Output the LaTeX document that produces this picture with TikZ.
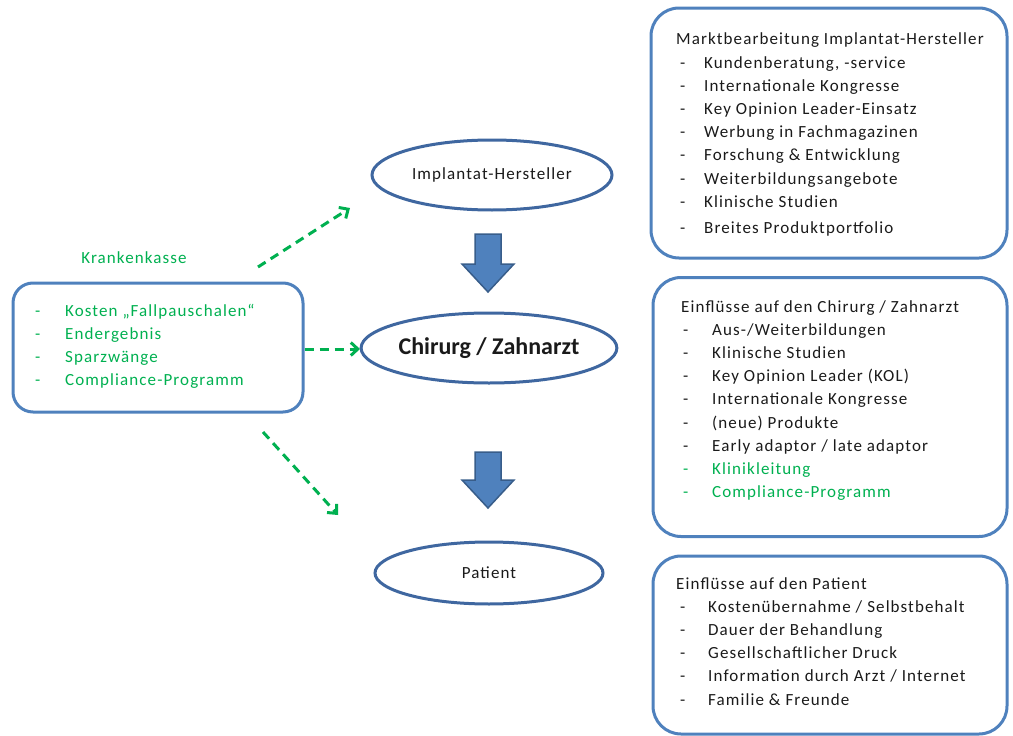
\documentclass[tikz,border=0pt]{standalone}
\usepackage{fontspec}
\setmainfont{Carlito}[LetterSpace=6.5]
\newfontfamily\plainfont{Carlito}
\usetikzlibrary{arrows.meta,shapes.geometric}
\definecolor{boxblue}{HTML}{4F81BD}
\definecolor{ellblue}{HTML}{3F67A0}
\definecolor{arrowedge}{HTML}{385D8A}
\definecolor{kgreen}{HTML}{00B050}
\definecolor{txt}{HTML}{1A1A1A}
\begin{document}
\begin{tikzpicture}[x=1pt,y=-1pt,
  infobox/.style={draw=boxblue, line width=3pt, rounded corners=28pt, inner sep=0pt},
  listtext/.style={inner sep=0pt, anchor=base west, text=txt, font=\fontsize{17}{23.2}\selectfont},
  ellnode/.style={ellipse, draw=ellblue, line width=3pt, inner sep=0pt, text=txt},
  blockarrow/.style={fill=boxblue, draw=arrowedge, line width=1.5pt, line join=miter},
  greenarrow/.style={draw=kgreen, line width=3pt, dash pattern=on 9pt off 6pt, -{Straight Barb[length=7pt,width=13pt,line width=3pt]}}]
\useasboundingbox (0,0) rectangle (1013,736);

% right boxes
\node[infobox, minimum width=356pt, minimum height=250pt] (b1) at (829,133) {};
\node[infobox, minimum width=354pt, minimum height=259pt] (b2) at (830,407) {};
\node[infobox, minimum width=354pt, minimum height=178pt] (b3) at (830,645) {};

\node[listtext] (t1) at (676,45) {\begin{tabular}[t]{@{\hspace{4pt}}p{24pt}@{}l}
\multicolumn{2}{@{}l}{Marktbearbeitung Implantat-Hersteller}\\
- & Kundenberatung, -service\\
- & Internationale Kongresse\\
- & Key Opinion Leader-Einsatz\\
- & Werbung in Fachmagazinen\\
- & Forschung \& Entwicklung\\
- & Weiterbildungsangebote\\
- & Klinische Studien\\[2.5pt]
- & Breites Produktportfolio
\end{tabular}};

\node[listtext] (t2) at (681,312) {\begin{tabular}[t]{@{\hspace{2pt}}p{29pt}@{}l}
\multicolumn{2}{@{}l}{Einflüsse auf den Chirurg / Zahnarzt}\\
- & Aus-/Weiterbildungen\\
- & Klinische Studien\\
- & Key Opinion Leader (KOL)\\
- & Internationale Kongresse\\
- & (neue) Produkte\\
- & Early adaptor / late adaptor\\
\textcolor{kgreen}{-} & \textcolor{kgreen}{Klinikleitung}\\
\textcolor{kgreen}{-} & \textcolor{kgreen}{Compliance-Programm}
\end{tabular}};

\node[listtext] (t3) at (676,589) {\begin{tabular}[t]{@{\hspace{4pt}}p{28pt}@{}l}
\multicolumn{2}{@{}l}{Einflüsse auf den Patient}\\
- & Kostenübernahme / Selbstbehalt\\
- & Dauer der Behandlung\\
- & Gesellschaftlicher Druck\\
- & Information durch Arzt / Internet\\
- & Familie \& Freunde
\end{tabular}};

% left box
\node[infobox, rounded corners=20pt, minimum width=290pt, minimum height=129pt] (kk) at (158,347.5) {};
\node[listtext, text=kgreen] (tk) at (35,316) {\begin{tabular}[t]{@{}p{30pt}@{}l}
- & Kosten „Fallpauschalen“\\
- & Endergebnis\\
- & Sparzwänge\\
- & Compliance-Programm
\end{tabular}};
\node[inner sep=0pt, text=kgreen, font=\fontsize{17}{20}\selectfont] (kklabel) at (134,258) {Krankenkasse};

% ellipses
\node[ellnode, minimum width=240pt, minimum height=70pt, font=\fontsize{17}{20}\selectfont] (ih) at (492,175) {Implantat-Hersteller};
\node[ellnode, minimum width=228pt, minimum height=70pt, font=\plainfont\fontsize{24}{28}\selectfont\bfseries] (cz) at (489,348) {Chirurg / Zahnarzt};
\node[ellnode, minimum width=228pt, minimum height=62pt, font=\fontsize{17}{20}\selectfont] (pa) at (489,573) {Patient};

% block arrows
\coordinate (a1) at (488,234);
\coordinate (a2) at (488,452);
\begin{scope}[shift={(a1)}]
\draw[blockarrow] (-13,0) -- (13,0) -- (13,30) -- (26,30) -- (0,58) -- (-26,30) -- (-13,30) -- cycle;
\end{scope}
\begin{scope}[shift={(a2)}]
\draw[blockarrow] (-13,0) -- (13,0) -- (13,28) -- (26,28) -- (0,56) -- (-26,28) -- (-13,28) -- cycle;
\end{scope}

% green dashed arrows
\coordinate (g1s) at (258,267);
\coordinate (g1e) at (350,208);
\coordinate (g2e) at (360,349);
\coordinate (g3s) at (263,432);
\coordinate (g3e) at (338,515);
\draw[greenarrow] (g1s) -- (g1e);
\draw[greenarrow] (kk.east |- g2e) -- (g2e);
\draw[greenarrow] (g3s) -- (g3e);
\end{tikzpicture}
\end{document}
